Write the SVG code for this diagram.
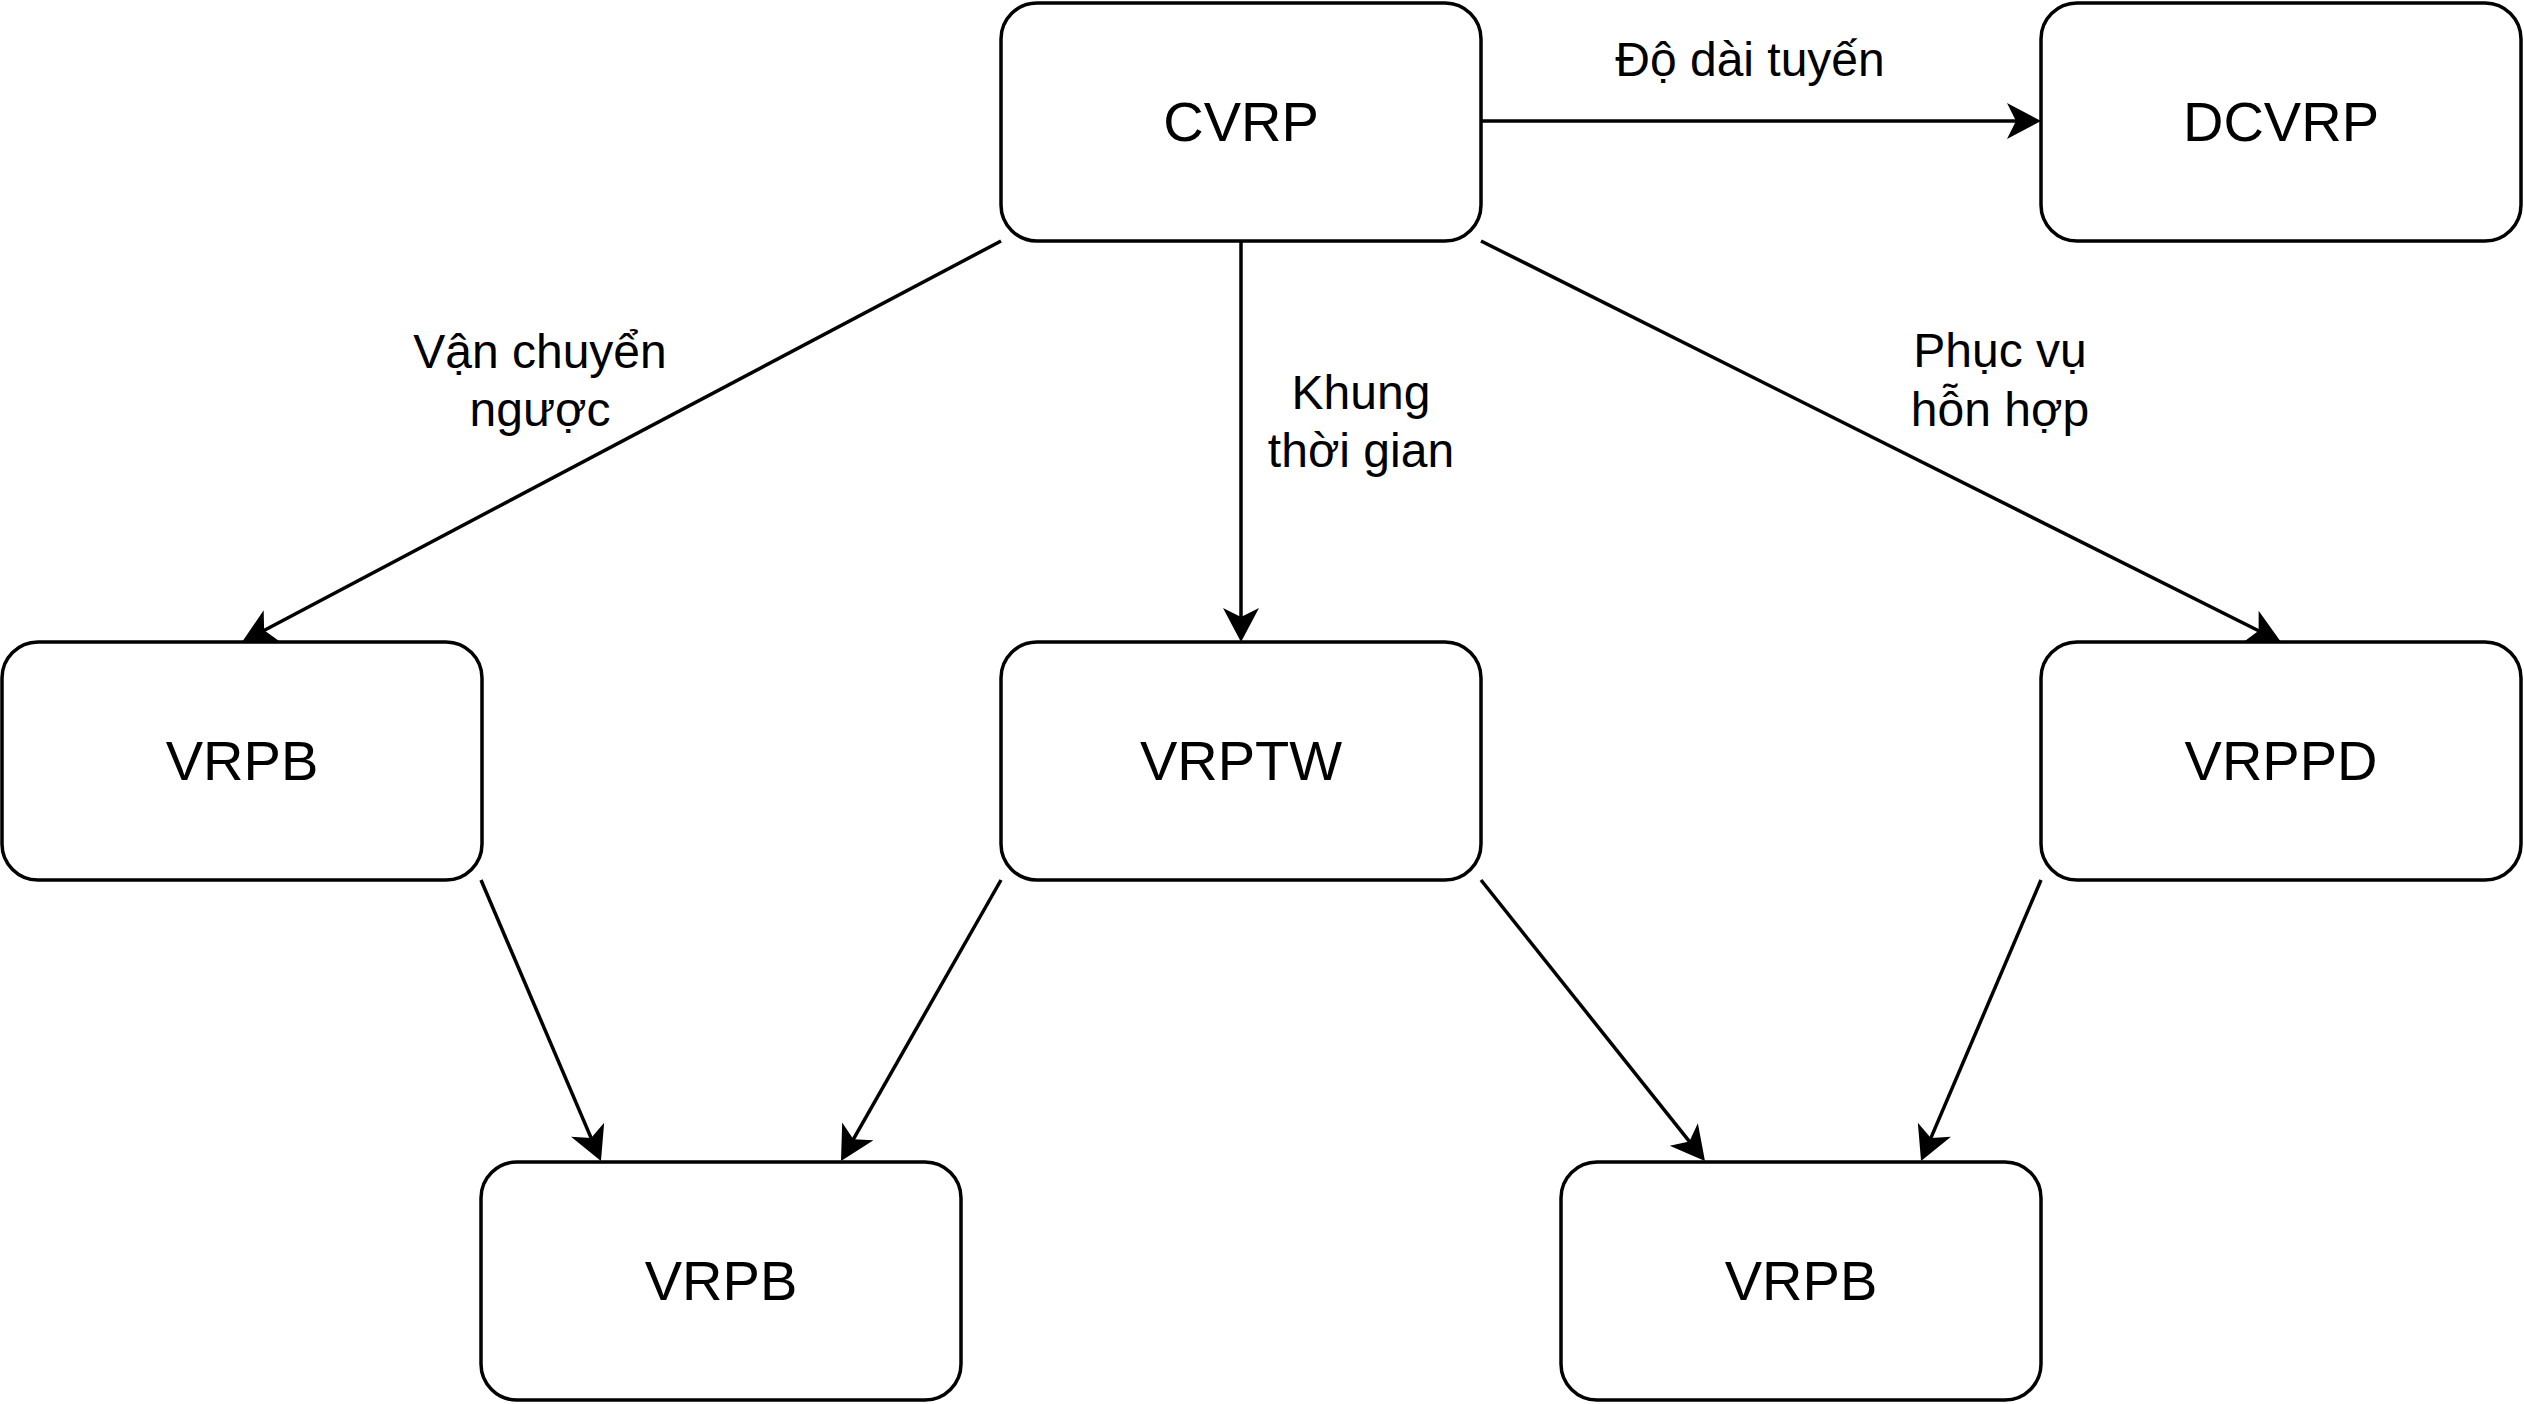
<svg xmlns="http://www.w3.org/2000/svg" width="2524" height="1404" viewBox="0 0 2524 1404">
<style>
.box{fill:#fff;stroke:#000;stroke-width:3.5}
.nt{font-family:"Liberation Sans",Arial,sans-serif;font-size:56px;fill:#000;text-anchor:middle}
.lt{font-family:"Liberation Sans",Arial,sans-serif;font-size:48px;fill:#000;text-anchor:middle}
.edge{fill:none;stroke:#000;stroke-width:3.5;marker-end:url(#arr)}
</style>
<defs>
<marker id="arr" markerUnits="userSpaceOnUse" orient="auto" viewBox="-20 -20 45 40" markerWidth="45" markerHeight="40" refX="0" refY="0">
<path d="M20,0 L-14,-18 L-5,0 L-14,18 Z" fill="#000"/>
</marker>
</defs>
<rect width="2524" height="1404" fill="#fff"/>
<g id="connectors">
<path class="edge" d="M1481,121 L2021,121"/>
<path class="edge" d="M1001,241 L259.7,632.7"/>
<path class="edge" d="M1241,241 L1241,622"/>
<path class="edge" d="M1481,241 L2263.1,633"/>
<path class="edge" d="M481,880 L593.1,1142.6"/>
<path class="edge" d="M1001,880 L850.9,1143.6"/>
<path class="edge" d="M1481,880 L1692.5,1145.4"/>
<path class="edge" d="M2041,880 L1928.9,1142.6"/>
<text class="lt" x="1750" y="76">Độ dài tuyến</text>
<text class="lt" x="540" y="368">Vận chuyển</text>
<text class="lt" x="540" y="426">ngược</text>
<text class="lt" x="1361" y="409">Khung</text>
<text class="lt" x="1361" y="467">thời gian</text>
<text class="lt" x="2000" y="367">Phục vụ</text>
<text class="lt" x="2000" y="426">hỗn hợp</text>
</g>
<g id="cvrp"><rect class="box" x="1001" y="3" width="480" height="238" rx="36"/><text class="nt" x="1241" y="141">CVRP</text></g>
<g id="dcvrp"><rect class="box" x="2041" y="3" width="480" height="238" rx="36"/><text class="nt" x="2281" y="141">DCVRP</text></g>
<g id="vrpb1"><rect class="box" x="2" y="642" width="480" height="238" rx="36"/><text class="nt" x="242" y="780">VRPB</text></g>
<g id="vrptw"><rect class="box" x="1001" y="642" width="480" height="238" rx="36"/><text class="nt" x="1241" y="780">VRPTW</text></g>
<g id="vrppd"><rect class="box" x="2041" y="642" width="480" height="238" rx="36"/><text class="nt" x="2281" y="780">VRPPD</text></g>
<g id="vrpb2"><rect class="box" x="481" y="1162" width="480" height="238" rx="36"/><text class="nt" x="721" y="1300">VRPB</text></g>
<g id="vrpb3"><rect class="box" x="1561" y="1162" width="480" height="238" rx="36"/><text class="nt" x="1801" y="1300">VRPB</text></g>
</svg>
